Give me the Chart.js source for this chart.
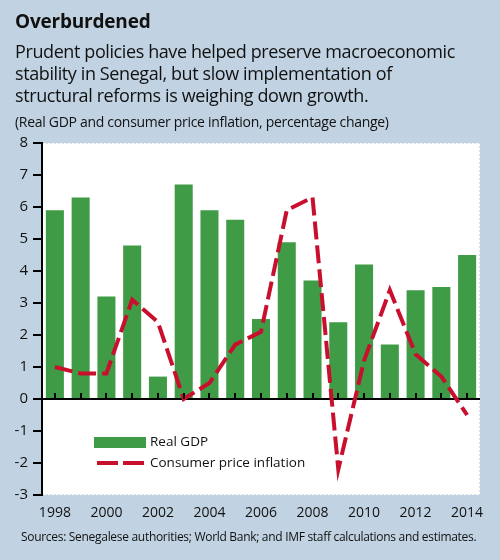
<!DOCTYPE html>
<html>
<head>
<meta charset="utf-8">
<script src="https://cdn.jsdelivr.net/npm/chart.js@4/dist/chart.umd.min.js"></script>
<style>
  html, body { margin: 0; padding: 0; }
  body { width: 500px; height: 560px; background: #c1d3e2; position: relative; overflow: hidden;
         font-family: "Open Sans", "Noto Sans", sans-serif; color: #111; }
  #wrap { position: absolute; left: 0; top: 0; width: 500px; height: 560px; }
  .txt { position: absolute; left: 15px; white-space: nowrap; }
  #title { top: 8px; font-size: 19px; font-weight: bold; letter-spacing: -0.2px; }
  #sub { top: 40px; font-size: 18px; line-height: 22px; letter-spacing: -0.4px; }
  #unit { top: 112px; font-size: 14px; letter-spacing: -0.3px; }
  #src { top: 528px; left: 21px; font-size: 12px; letter-spacing: -0.3px; }
</style>
</head>
<body>
<div id="wrap"><canvas id="c" width="500" height="560"></canvas></div>
<div class="txt" id="title">Overburdened</div>
<div class="txt" id="sub">Prudent policies have helped preserve macroeconomic<br>stability in Senegal, but slow implementation of<br>structural reforms is weighing down growth.</div>
<div class="txt" id="unit">(Real GDP and consumer price inflation, percentage change)</div>
<div class="txt" id="src">Sources: Senegalese authorities; World Bank; and IMF staff calculations and estimates.</div>
<script>
const years = ["1998", "1999", "2000", "2001", "2002", "2003", "2004", "2005", "2006",
               "2007", "2008", "2009", "2010", "2011", "2012", "2013", "2014"]
const realGdp = [5.9, 6.3, 3.2, 4.8, 0.7, 6.7, 5.9, 5.6, 2.5, 4.9, 3.7, 2.4, 4.2, 1.7, 3.4, 3.5, 4.5]
const cpiInflation = [1.0, 0.8, 0.8, 3.1, 2.4, 0.0, 0.5, 1.7, 2.1, 5.9, 6.3, -2.2, 1.2, 3.4, 1.4, 0.7, -0.5]
const yTicks = [-3, -2, -1, 0, 1, 2, 3, 4, 5, 6, 7, 8]

const GREEN = "#409b46"
const RED = "#c8102e"
const FONT = "'Open Sans', 'Noto Sans', sans-serif"

// white plot panel with a dotted edge
const panel = {
    id: "panel",
    beforeDraw(chart) {
        const { ctx, chartArea: a } = chart
        ctx.save()
        ctx.fillStyle = "#fff"
        ctx.fillRect(a.left, a.top, a.right - a.left, a.bottom - a.top)
        ctx.strokeStyle = "#aebfcd"
        ctx.lineWidth = 1
        ctx.setLineDash([1, 3])
        ctx.strokeRect(a.left + 0.5, a.top + 0.5, a.right - a.left - 1, a.bottom - a.top - 1)
        ctx.restore()
    }
}

// small tick marks on the zero line, one per year
const zeroTicks = {
    id: "zeroTicks",
    afterDatasetsDraw(chart) {
        const { ctx, scales: { x, y } } = chart
        const y0 = y.getPixelForValue(0)
        ctx.save()
        ctx.strokeStyle = "#000"
        ctx.lineWidth = 2
        ctx.beginPath()
        years.forEach((yr, i) => {
            const px = Math.round(x.getPixelForValue(i))
            ctx.moveTo(px, y0)
            ctx.lineTo(px, y0 - 6)
        })
        ctx.stroke()
        ctx.restore()
    }
}

// legend inside the plot area
const insideLegend = {
    id: "insideLegend",
    afterDraw(chart) {
        const { ctx } = chart
        const sets = chart.data.datasets
        ctx.save()
        ctx.font = "13.5px " + FONT
        ctx.textBaseline = "middle"
        // bar item
        ctx.fillStyle = sets[1].backgroundColor
        ctx.fillRect(94, 437, 52, 11)
        ctx.fillStyle = "#111"
        ctx.fillText(sets[1].label, 150, 442)
        // line item
        ctx.strokeStyle = sets[0].borderColor
        ctx.lineWidth = 4
        ctx.setLineDash([21, 5])
        ctx.beginPath()
        ctx.moveTo(97, 463)
        ctx.lineTo(144, 463)
        ctx.stroke()
        ctx.setLineDash([])
        ctx.fillText(sets[0].label, 150, 463)
        ctx.restore()
    }
}

new Chart(document.getElementById("c"), {
    data: {
        labels: years,
        datasets: [{
            type: "line",
            label: "Consumer price inflation",
            data: cpiInflation,
            borderColor: RED,
            borderWidth: 4,
            borderDash: [18, 6],
            pointRadius: 0,
            tension: 0,
            order: 0
        }, {
            type: "bar",
            label: "Real GDP",
            data: realGdp,
            backgroundColor: GREEN,
            barPercentage: 0.7,
            categoryPercentage: 1,
            order: 1
        }]
    },
    options: {
        responsive: false,
        animation: false,
        devicePixelRatio: 1,
        layout: { padding: { top: 143, right: 20, left: 0, bottom: 0 } },
        plugins: { legend: { display: false }, tooltip: { enabled: false } },
        scales: {
            x: {
                grid: { display: false },
                border: { display: false },
                ticks: {
                    autoSkip: false, maxRotation: 0, padding: 2,
                    color: "#111", font: { family: FONT, size: 14 },
                    callback: (v, i) => i % 2 === 0 ? years[i] : ""
                },
                afterFit: (s) => { s.height = 65 }
            },
            y: {
                min: -3, max: 8,
                afterBuildTicks: (s) => { s.ticks = yTicks.map(v => ({ value: v })) },
                grid: {
                    color: (c) => c.tick && c.tick.value === 0 ? "#000" : "rgba(0,0,0,0)",
                    lineWidth: 2,
                    tickColor: "#000",
                    tickLength: 9
                },
                border: { display: true, color: "#000", width: 2 },
                ticks: { padding: 5, color: "#111", font: { family: FONT, size: 15 } },
                afterFit: (s) => { s.width = 42 }
            }
        }
    },
    plugins: [panel, zeroTicks, insideLegend]
})
</script>
</body>
</html>
